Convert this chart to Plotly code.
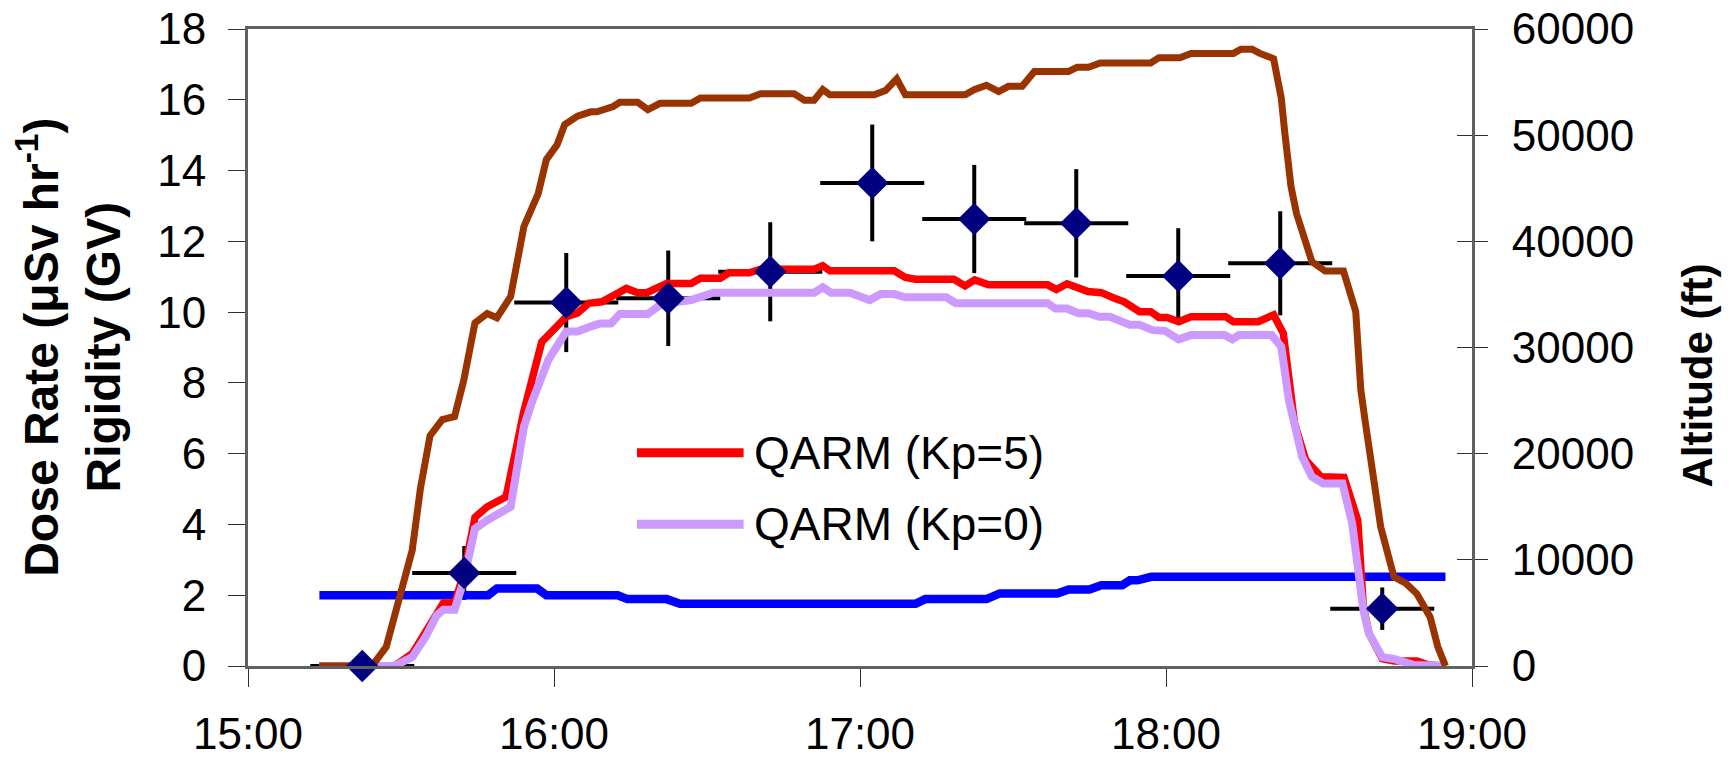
import plotly.graph_objects as go

# ---------------- data (time in minutes after 15:00) ----------------
alt_t = [14.0, 24.3, 27.1, 32.2, 33.8, 35.7, 38.1, 40.5, 42.3, 44.5, 46.9, 48.8, 51.5,
         54.1, 56.9, 58.5, 60.6, 62.1, 64.6, 67.2, 68.4, 71.6, 72.9, 76.4, 78.4, 80.8,
         86.9, 88.7, 98.3, 100.5, 107.1, 109.1, 111.0, 112.7, 114.1, 122.8, 125.0, 127.2,
         128.9, 140.6, 142.5, 144.8, 147.2, 149.1, 151.8, 154.2, 160.9, 162.6, 164.8,
         167.1, 177.0, 178.6, 182.7, 184.9, 193.2, 194.7, 196.9, 198.4, 201.1, 202.6,
         203.3, 204.5, 205.6, 207.1, 208.6, 211.2, 214.8, 217.2, 218.2, 219.1, 222.1,
         224.7, 227.0, 229.2, 231.8, 233.3, 234.8]
alt_ft = [0, 0, 1800, 10900, 16700, 21700, 23200, 23500, 26900, 32300, 33200, 32800, 34800,
          41400, 44500, 47700, 49100, 51000, 51800, 52200, 52200, 52700, 53100, 53100, 52400,
          53000, 53000, 53500, 53500, 53900, 53900, 53300, 53300, 54300, 53800, 53800, 54200,
          55300, 53800, 53800, 54300, 54700, 54100, 54600, 54600, 56000, 56000, 56400, 56400,
          56800, 56800, 57300, 57300, 57700, 57700, 58100, 58100, 57700, 57200, 53500,
          50200, 45200, 42600, 40100, 38100, 37200, 37200, 33400, 26000, 22900, 13100,
          8400, 7800, 6800, 4600, 1800, 0]

kp5_t = [14.0, 28.7, 32.2, 34.8, 37.0, 38.3, 40.5, 42.3, 44.5, 46.9, 50.6, 54.1, 57.6, 60.2,
         62.4, 64.6, 66.8, 69.4, 71.6, 74.2, 76.4, 78.2, 82.1, 86.9, 88.7, 92.6, 94.3, 98.3,
         100.5, 111.0, 112.7, 114.1, 126.7, 128.9, 130.9, 138.4, 140.6, 142.5, 145.2, 156.8,
         158.5, 160.6, 164.7, 167.3, 169.9, 171.8, 174.8, 177.0, 178.6, 180.2, 182.5, 184.9,
         191.7, 193.2, 198.1, 201.1, 203.0, 205.2, 207.4, 209.3, 210.4, 214.9, 217.6, 218.7,
         219.8, 222.4, 224.7, 229.2, 231.5, 234.8]
kp5_dose = [0, 0, 0.35, 0.95, 1.55, 1.78, 1.78, 2.6, 4.2, 4.5, 4.78, 7.2, 9.16, 9.54,
            9.87, 9.97, 10.25, 10.29, 10.44, 10.67, 10.55, 10.55, 10.81, 10.81, 10.96, 10.96,
            11.11, 11.11, 11.21, 11.21, 11.31, 11.17, 11.17, 10.98, 10.93, 10.93, 10.74, 10.91,
            10.77, 10.77, 10.64, 10.8, 10.58, 10.55, 10.39, 10.29, 10.01, 10.01, 9.85, 9.85,
            9.73, 9.87, 9.87, 9.73, 9.73, 9.92, 9.4, 6.86, 5.82, 5.49, 5.35, 5.33, 4.12, 1.67,
            0.92, 0.21, 0.14, 0.14, 0.03, 0]

kp0_t = [14.0, 28.7, 32.2, 34.8, 37.0, 38.3, 40.5, 42.3, 44.5, 46.9, 51.5, 54.1, 55.8, 58.9,
         62.4, 64.6, 67.2, 69.0, 71.2, 72.9, 78.4, 80.8, 82.1, 86.9, 91.2, 111.0, 112.7,
         114.3, 118.0, 121.9, 124.1, 126.7, 128.9, 136.9, 138.8, 156.8, 158.3, 160.6, 162.8,
         164.8, 166.9, 169.0, 172.9, 174.8, 177.4, 179.8, 182.5, 184.9, 191.5, 193.0, 194.3,
         200.7, 202.6, 204.1, 206.7, 208.6, 210.8, 214.6, 216.5, 217.6, 218.7, 219.8, 222.4,
         224.7, 228.5, 234.8]
kp0_dose = [0, 0, 0.25, 0.82, 1.43, 1.59, 1.59, 2.42, 3.88, 4.12, 4.5, 6.76, 7.51, 8.65,
            9.45, 9.45, 9.59, 9.68, 9.68, 9.95, 9.95, 10.2, 10.25, 10.34, 10.55, 10.55, 10.7,
            10.55, 10.55, 10.34, 10.51, 10.51, 10.42, 10.42, 10.25, 10.25, 10.1, 10.1, 9.97,
            9.97, 9.87, 9.87, 9.64, 9.64, 9.49, 9.47, 9.23, 9.35, 9.35, 9.23, 9.35,
            9.35, 9.02, 7.51, 5.91, 5.35, 5.16, 5.16, 4.03, 2.61, 1.58, 0.92, 0.25,
            0.2, 0.03, 0]

rig_t = [14.0, 47.1, 48.8, 56.7, 58.5, 72.5, 74.4, 82.1, 84.7, 130.9, 132.8, 144.8, 147.4,
         158.7, 160.9, 165.0, 167.3, 171.4, 172.9, 174.4, 177.1, 234.8]
rig_gv = [2.0, 2.0, 2.19, 2.19, 2.0, 2.0, 1.89, 1.89, 1.76, 1.76, 1.89, 1.89, 2.05,
          2.05, 2.16, 2.16, 2.28, 2.28, 2.42, 2.42, 2.52, 2.52]

meas_t = [22.4, 42.4, 62.4, 82.4, 102.4, 122.4, 142.4, 162.4, 182.4, 202.4, 222.4]
meas_dose = [0.0, 2.63, 10.27, 10.39, 11.14, 13.65, 12.63, 12.51, 11.02, 11.38, 1.62]
meas_dose_err = [0.0, 0.76, 1.4, 1.35, 1.4, 1.65, 1.53, 1.53, 1.35, 1.47, 0.6]
meas_t_err = [10.2, 10.2, 10.2, 10.2, 10.2, 10.2, 10.2, 10.2, 10.2, 10.2, 10.2]

x_tick_vals = [0, 60, 120, 180, 240]
x_tick_text = ["15:00", "16:00", "17:00", "18:00", "19:00"]

legend_names = ["QARM (Kp=5)", "QARM (Kp=0)"]
left_title = "<b>Dose Rate (μSv hr<sup>-1</sup>)<br>Rigidity (GV)</b>"
right_title = "<b>Altitude (ft)</b>"

# ---------------- style ----------------
FONT = "Liberation Sans, Arial, sans-serif"
C_ALT = "#993300"
C_KP5 = "#FF0000"
C_KP0 = "#CC99FF"
C_RIG = "#0000FF"
C_MEAS = "#000080"
AXC = "#606060"

fig = go.Figure()

# error bars (drawn underneath the lines)
fig.add_trace(go.Scatter(
    x=meas_t, y=meas_dose, mode="markers", yaxis="y",
    marker=dict(size=1, opacity=0), showlegend=False, cliponaxis=False,
    error_x=dict(type="data", array=meas_t_err, color="black", thickness=4, width=0),
    error_y=dict(type="data", array=meas_dose_err, color="black", thickness=4, width=0),
    hoverinfo="skip"))

fig.add_trace(go.Scatter(x=rig_t, y=rig_gv, mode="lines", name="Rigidity", yaxis="y",
                         line=dict(color=C_RIG, width=8.5), showlegend=False, cliponaxis=False))
fig.add_trace(go.Scatter(x=kp5_t, y=kp5_dose, mode="lines", name=legend_names[0], yaxis="y",
                         line=dict(color=C_KP5, width=7.5), showlegend=False, cliponaxis=False))
fig.add_trace(go.Scatter(x=kp0_t, y=kp0_dose, mode="lines", name=legend_names[1], yaxis="y",
                         line=dict(color=C_KP0, width=8), showlegend=False, cliponaxis=False))
fig.add_trace(go.Scatter(x=alt_t, y=alt_ft, mode="lines", name="Altitude", yaxis="y2",
                         line=dict(color=C_ALT, width=7), showlegend=False, cliponaxis=False))
fig.add_trace(go.Scatter(x=meas_t, y=meas_dose, mode="markers", name="Measured dose rate",
                         yaxis="y3", showlegend=False, cliponaxis=False,
                         marker=dict(symbol="diamond", size=25, color=C_MEAS,
                                     line=dict(width=0))))

# manual legend (long line samples as in the reference)
leg_y = [0.3347, 0.2227]
leg_col = [C_KP5, C_KP0]
for name, yy, col in zip(legend_names, leg_y, leg_col):
    fig.add_shape(type="line", xref="paper", yref="paper", x0=0.3178, x1=0.4049, y0=yy, y1=yy,
                  line=dict(color=col, width=9))
    fig.add_annotation(text=name, xref="paper", yref="paper", x=0.4118, y=yy,
                       xanchor="left", yanchor="middle", showarrow=False,
                       font=dict(family=FONT, size=46, color="black"))

# axis titles
fig.add_annotation(text=left_title, xref="paper", yref="paper", x=-0.146, y=0.5,
                   xanchor="center", yanchor="middle", textangle=-90, showarrow=False,
                   font=dict(family=FONT, size=48, color="black"))
fig.add_annotation(text=right_title, xref="paper", yref="paper", x=1.1842, y=0.4568,
                   xanchor="center", yanchor="middle", textangle=-90, showarrow=False,
                   font=dict(family=FONT, size=42, color="black"))

tickfont = dict(family=FONT, size=44, color="black")

fig.update_layout(
    width=1733, height=760,
    margin=dict(l=248, r=261, t=29, b=94),
    paper_bgcolor="white", plot_bgcolor="white",
    showlegend=False,
    xaxis=dict(range=[0, 240], tickvals=x_tick_vals, ticktext=x_tick_text,
               ticks="outside", ticklen=18, tickwidth=1.3, tickcolor="#303030",
               showline=True, linecolor=AXC, linewidth=3, mirror=True, automargin=False,
               showgrid=False, zeroline=False, tickfont=tickfont, ticklabelstandoff=9,
               ticklabeloverflow="allow"),
    yaxis=dict(range=[0, 18], dtick=2, tick0=0, automargin=False,
               ticks="outside", ticklen=17, tickwidth=1.3, tickcolor="#303030",
               showline=True, linecolor=AXC, linewidth=3,
               showgrid=False, zeroline=False, tickfont=tickfont, ticklabelstandoff=13,
               ticklabeloverflow="allow"),
    yaxis2=dict(range=[0, 60000], dtick=10000, tick0=0, tickformat="d",
                overlaying="y", side="right", anchor="x", automargin=False,
                ticks="outside", ticklen=13, tickwidth=1.3, tickcolor="#303030",
                showline=True, linecolor=AXC, linewidth=3,
                showgrid=False, zeroline=False, tickfont=tickfont, ticklabelstandoff=15,
                ticklabeloverflow="allow"),
    yaxis3=dict(range=[0, 18], tickvals=[0, 3, 6, 9, 12, 15, 18],
                overlaying="y", side="right", anchor="x", automargin=False,
                ticks="inside", ticklen=15, tickwidth=1.3, tickcolor="#303030",
                showticklabels=False, showline=False, showgrid=False, zeroline=False),
)

# remove the browser's default 8 px body margin so the figure fills the window exactly
fig.write_html("out.html", config={"displayModeBar": False},
               post_script="document.body.style.margin='0px';")
